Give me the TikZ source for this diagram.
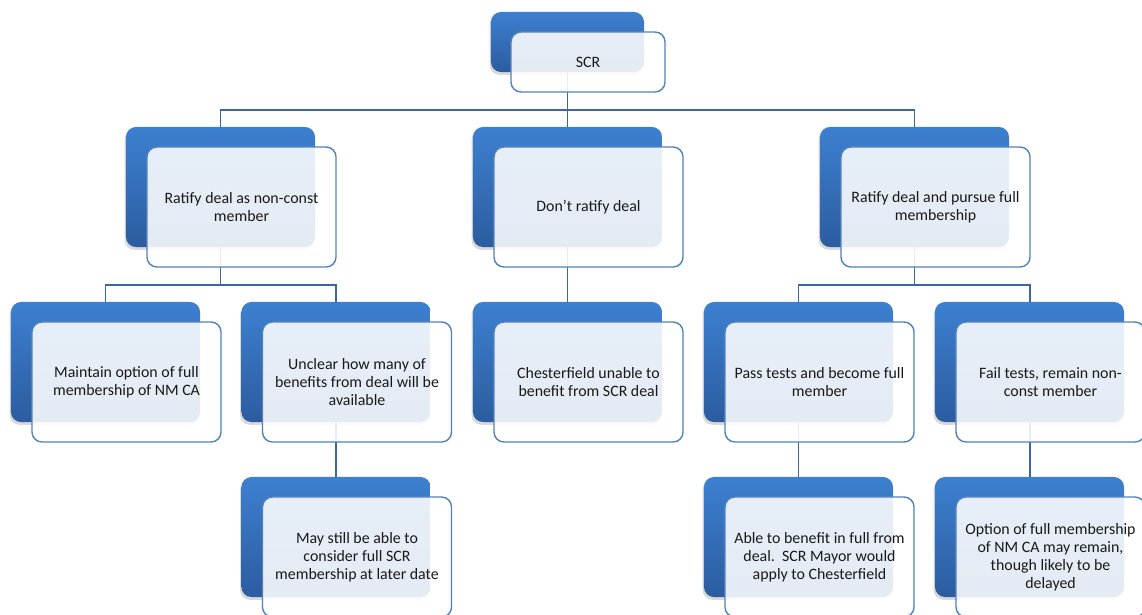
\documentclass[tikz,border=0pt]{standalone}
\usepackage{fontspec}
\setmainfont{Carlito}
\usepackage{xcolor}
\usepackage{tikz}
\usetikzlibrary{positioning,shadows,backgrounds}
\definecolor{bandtop}{HTML}{3D80D0}
\definecolor{bandbot}{HTML}{2C5C9F}
\definecolor{frameblue}{HTML}{4F81BD}
\definecolor{linkblue}{HTML}{3C66A2}

\begin{document}
\begin{tikzpicture}[x=0.025cm, y=-0.025cm,
    every node/.style={font=\fontsize{11.3}{12.8}\selectfont, align=center},
    backbox/.style={rounded corners=0.25cm, top color=bandtop, bottom color=bandbot,
      draw=none, minimum width=4.725cm, minimum height=3cm,
      drop shadow={shadow xshift=-1pt, shadow yshift=-2pt, opacity=.3}},
    frontbox/.style={rounded corners=0.25cm, fill=white, fill opacity=.88,
      text opacity=1, draw=frameblue, line width=1pt, text=black!90,
      minimum width=4.725cm, minimum height=3cm},
    link/.style={draw=linkblue, line width=1.4pt}]
  \path[use as bounding box] (0,0) rectangle (1142,614);

  % top
  \node[backbox, minimum width=3.825cm, minimum height=1.5cm] (scrb) at (567.5,42) {};
  \node[frontbox, minimum width=3.85cm, minimum height=1.5cm] (scr) at (588,62) {SCR};

  % first level
  \node[backbox] (nonconstb) at (220.5,187) {};
  \node[frontbox] (nonconst) at (241.5,207) {Ratify deal as non-const\\member};
  \node[backbox] (noratifyb) at (567.5,187) {};
  \node[frontbox] (noratify) at (588.5,207) {Don't ratify deal};
  \node[backbox] (fullmemb) at (914.5,187) {};
  \node[frontbox] (fullmem) at (935.5,207) {Ratify deal and pursue full\\membership};

  % second level
  \node[backbox] (keepoptb) at (105.5,362) {};
  \node[frontbox] (keepopt) at (126.5,382) {Maintain option of full\\membership of NM CA};
  \node[backbox] (unclearb) at (336,362) {};
  \node[frontbox] (unclear) at (357,382) {Unclear how many of\\benefits from deal will be\\available};
  \node[backbox] (unableb) at (567.5,362) {};
  \node[frontbox] (unable) at (588.5,382) {Chesterfield unable to\\benefit from SCR deal};
  \node[backbox] (passb) at (798.5,362) {};
  \node[frontbox] (pass) at (819.5,382) {Pass tests and become full\\member};
  \node[backbox] (failb) at (1029.5,362) {};
  \node[frontbox] (fail) at (1050.5,382) {Fail tests, remain non-\\const member};

  % third level
  \node[backbox] (laterb) at (336,537) {};
  \node[frontbox] (later) at (357,557) {May still be able to\\consider full SCR\\membership at later date};
  \node[backbox] (benefitb) at (798.5,537) {};
  \node[frontbox] (benefit) at (819.5,557) {Able to benefit in full from\\deal.\ \ SCR Mayor would\\apply to Chesterfield};
  \node[backbox] (delayedb) at (1029.5,537) {};
  \node[frontbox] (delayed) at (1050.5,557) {Option of full membership\\of NM CA may remain,\\though likely to be\\delayed};

  \begin{pgfonlayer}{background}
    \draw[link] (scrb.south) -- ++(0,38) -| (nonconstb.north);
    \draw[link] (scrb.south) -- ++(0,38) -| (fullmemb.north);
    \draw[link] (scrb.south) -- (noratifyb.north);
    \draw[link] (nonconstb.south) -- ++(0,38) -| (keepoptb.north);
    \draw[link] (nonconstb.south) -- ++(0,38) -| (unclearb.north);
    \draw[link] (noratifyb.south) -- (unableb.north);
    \draw[link] (fullmemb.south) -- ++(0,38) -| (passb.north);
    \draw[link] (fullmemb.south) -- ++(0,38) -| (failb.north);
    \draw[link] (unclearb.south) -- (laterb.north);
    \draw[link] (passb.south) -- (benefitb.north);
    \draw[link] (failb.south) -- (delayedb.north);
  \end{pgfonlayer}
\end{tikzpicture}
\end{document}
